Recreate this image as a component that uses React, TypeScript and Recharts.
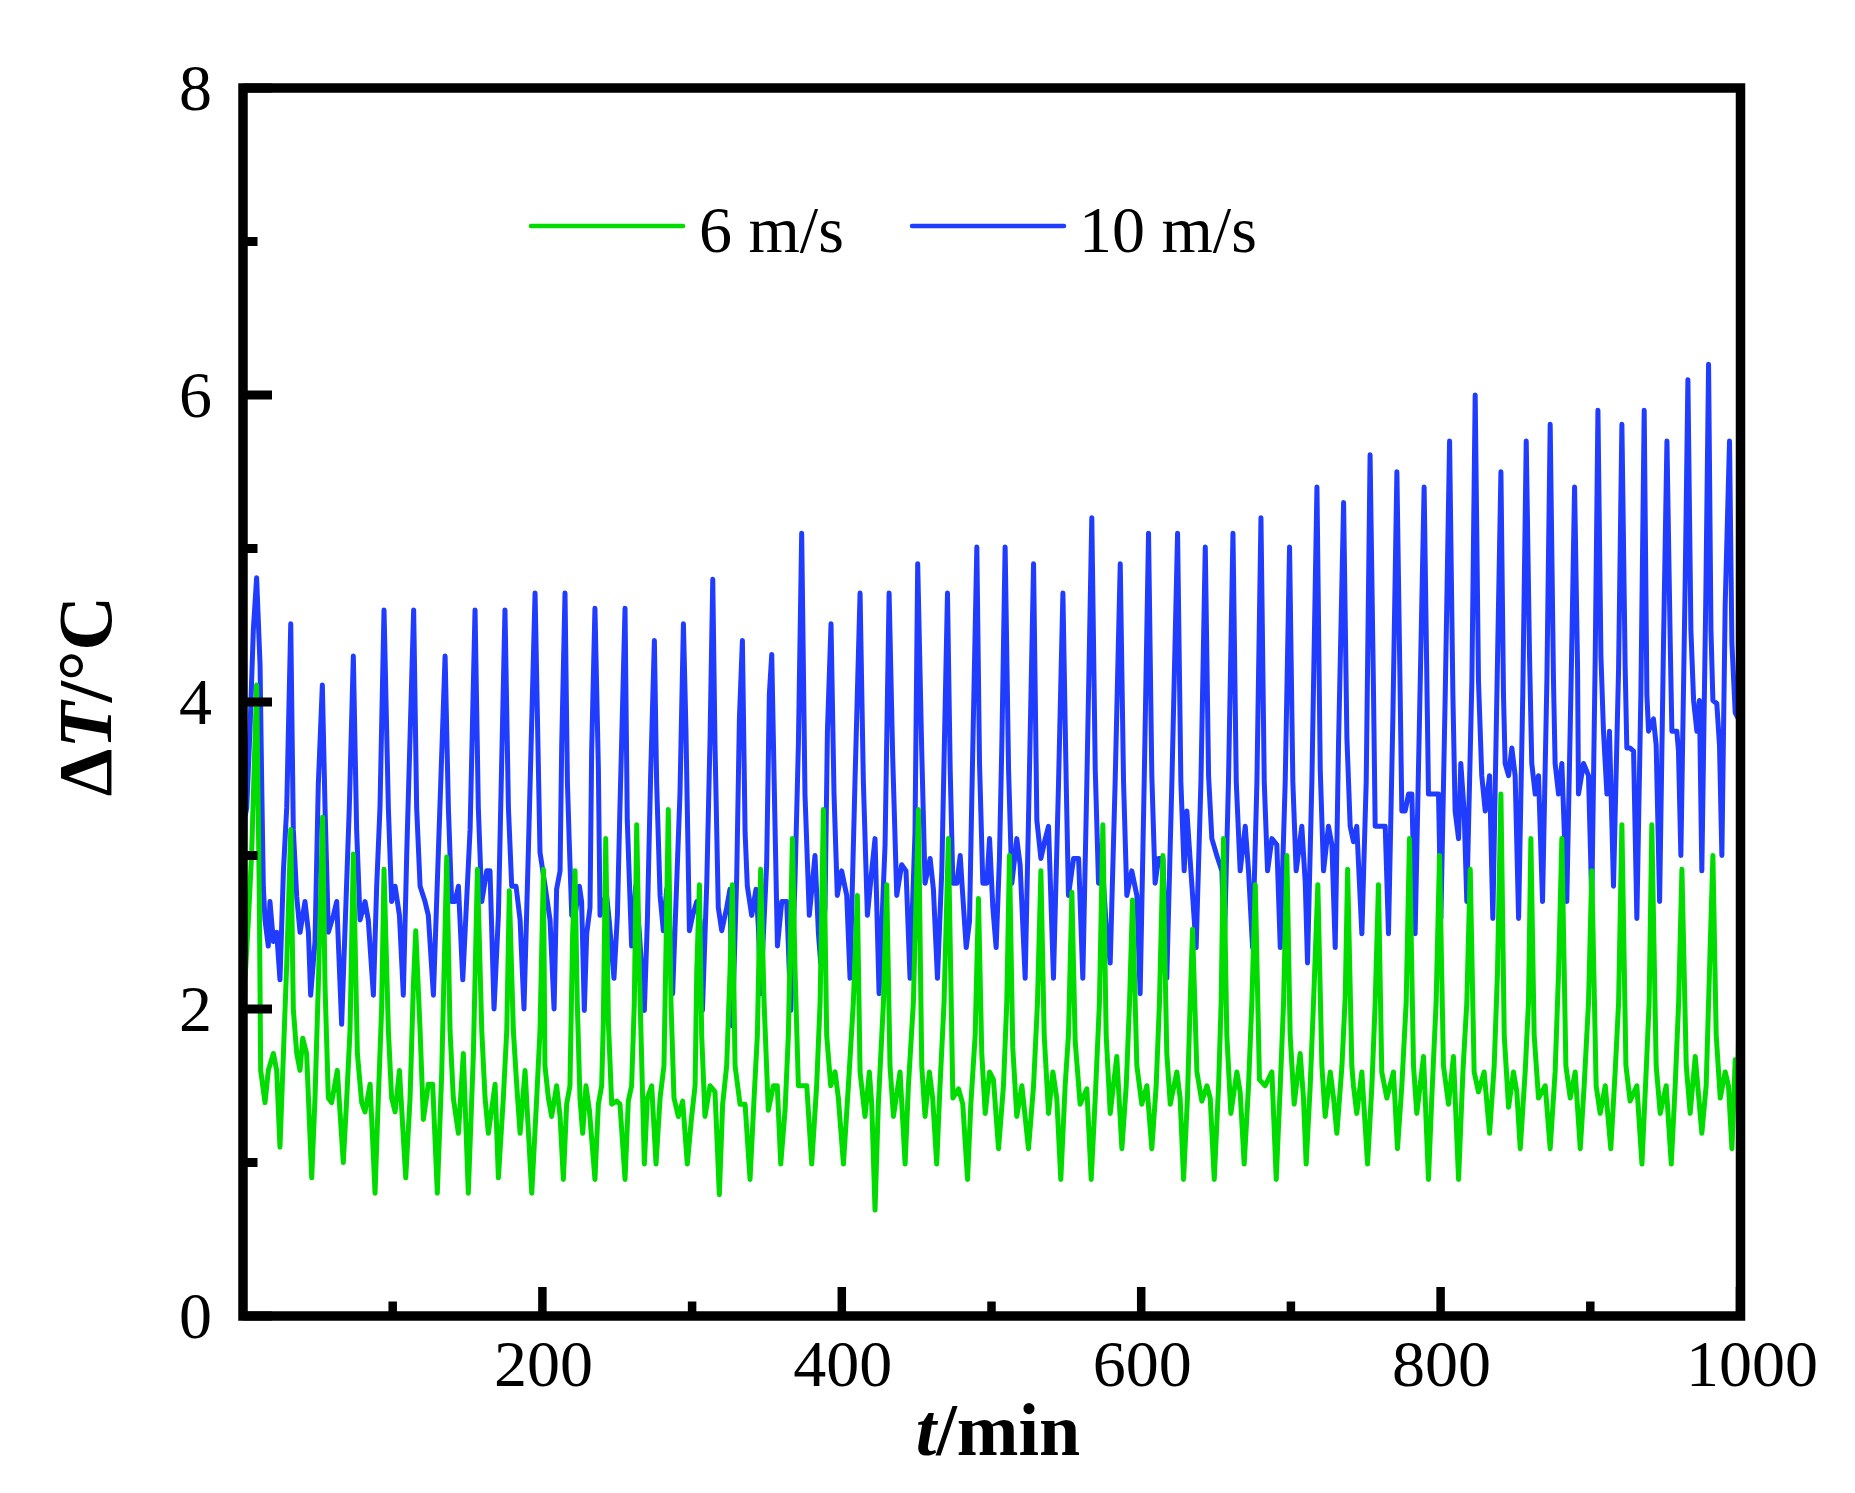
import React from "react";
import { LineChart, Line, XAxis, YAxis } from "recharts";

// [t (min), ΔT (°C)]
const speed10: [number, number][] = [
  [0, 2.19], [1.3, 3.25], [2.5, 3.31], [4.7, 3.83], [6.9, 4.47], [9.1, 4.81], [11.4, 4.24], [12.5, 3.46],
  [13.6, 2.79], [14.7, 2.58], [16.9, 2.41], [18.0, 2.7], [20.3, 2.44], [22.5, 2.5], [24.7, 2.19], [27.0, 2.9],
  [29.2, 3.31], [31.9, 4.51], [33.6, 3.17], [35.9, 2.73], [38.1, 2.5], [41.4, 2.7], [43.7, 2.5], [45.2, 2.09],
  [48.1, 2.44], [50.3, 3.46], [53.0, 4.11], [54.8, 3.31], [57.0, 2.5], [60.4, 2.61], [62.6, 2.7], [65.9, 1.9],
  [68.8, 2.7], [71.0, 3.31], [73.7, 4.3], [75.9, 3.17], [78.2, 2.58], [81.5, 2.7], [83.7, 2.58], [87.1, 2.09],
  [89.3, 2.8], [91.5, 3.31], [94.2, 4.6], [97.1, 3.31], [99.3, 2.7], [101.6, 2.8], [104.5, 2.61], [107.1, 2.09],
  [109.4, 3.02], [114.0, 4.6], [116.0, 3.31], [118.3, 2.8], [121.6, 2.7], [123.8, 2.61], [127.2, 2.09],
  [130.5, 3.02], [135.0, 4.3], [137.2, 3.31], [139.4, 2.7], [141.6, 2.7], [143.9, 2.8], [146.8, 2.19],
  [151.7, 3.17], [155.0, 4.6], [157.2, 3.31], [159.5, 2.7], [162.8, 2.9], [165.0, 2.9], [167.7, 2.0],
  [170.6, 2.61], [175.0, 4.6], [177.3, 3.31], [179.5, 2.8], [182.4, 2.8], [185.1, 2.58], [187.7, 2.0],
  [190.6, 3.02], [195.1, 4.71], [198.4, 3.02], [201.8, 2.8], [205.1, 2.58], [207.8, 2.0],
  [209.5, 2.78], [211.8, 2.9], [212.9, 3.72], [215.1, 4.71], [216.7, 3.48], [218.0, 3.07], [219.6, 2.61],
  [221.8, 2.61], [224.7, 2.8], [226.2, 2.7], [228.0, 1.99], [229.6, 2.49], [231.8, 2.66], [232.9, 3.68],
  [235.1, 4.61], [237.4, 3.56], [238.5, 2.61], [240.7, 2.7], [242.9, 2.74], [244.7, 2.57], [247.8, 2.2],
  [250.1, 2.61], [251.8, 3.31], [255.2, 4.61], [256.7, 3.23], [259.6, 2.41], [262.3, 2.8], [264.8, 2.49],
  [268.1, 1.99], [270.1, 2.57], [272.3, 3.52], [274.8, 4.4], [276.3, 3.48], [278.6, 2.74], [280.8, 2.51],
  [283.0, 2.78], [284.8, 2.57], [287.0, 2.1], [289.7, 2.82], [291.9, 3.4], [294.2, 4.51], [295.9, 3.81],
  [298.2, 2.51], [300.4, 2.61], [303.1, 2.7], [305.3, 2.57], [306.9, 1.99], [309.8, 2.82], [312.0, 3.77],
  [313.8, 4.8], [315.3, 3.72], [317.5, 2.66], [319.8, 2.51], [323.1, 2.66], [325.3, 2.78], [326.9, 1.89],
  [329.8, 2.86], [331.6, 3.89], [333.6, 4.4], [335.4, 3.15], [336.9, 2.8], [339.8, 2.61], [342.7, 2.78],
  [344.3, 2.53], [345.8, 2.1], [349.8, 2.94], [351.6, 4.05], [353.2, 4.31], [355.4, 3.19], [357.0, 2.41],
  [359.9, 2.7], [363.2, 2.7], [365.9, 1.99], [368.8, 2.86], [371.0, 3.72], [373.2, 5.1], [375.4, 3.4],
  [378.3, 2.61], [382.1, 3.0], [384.4, 2.49], [385.9, 2.3], [388.8, 2.66], [390.4, 3.81], [392.8, 4.51],
  [394.8, 3.4], [397.0, 2.74], [399.9, 2.9], [403.3, 2.74], [405.5, 2.2], [408.8, 3.48], [412.2, 4.71],
  [414.4, 3.48], [417.1, 2.61], [420.0, 2.9], [422.2, 3.11], [424.9, 2.1], [428.9, 3.07], [431.6, 4.71],
  [434.0, 3.64], [436.7, 2.74], [440.0, 2.94], [442.9, 2.9], [445.6, 2.2], [448.9, 3.15], [450.7, 4.9],
  [453.4, 3.68], [455.6, 2.82], [459.0, 2.98], [461.2, 2.78], [463.9, 2.2], [466.8, 2.9], [470.6, 4.71],
  [472.4, 3.56], [474.2, 2.82], [476.9, 2.82], [479.1, 3.0], [480.8, 2.74], [483.1, 2.4], [485.3, 2.57],
  [486.9, 3.4], [490.2, 5.01], [492.0, 3.6], [494.2, 2.82], [496.9, 2.82], [498.7, 3.11], [500.9, 2.66],
  [503.1, 2.4], [505.3, 2.98], [506.9, 3.72], [509.1, 5.01], [511.4, 3.56], [513.6, 2.82], [516.9, 3.11],
  [519.1, 2.94], [522.5, 2.2], [524.7, 3.23], [528.1, 4.9], [530.3, 3.23], [533.0, 2.98], [535.9, 3.11],
  [538.1, 3.19], [541.4, 2.2], [544.8, 3.48], [547.7, 4.71], [549.9, 3.48], [551.4, 2.74], [554.8, 2.98],
  [558.2, 2.98], [561.0, 2.2], [563.7, 3.48], [567.0, 5.2], [569.3, 3.56], [571.5, 2.82], [574.8, 2.82],
  [577.0, 2.49], [579.3, 2.3], [582.6, 3.48], [586.0, 4.9], [588.2, 3.48], [590.4, 2.74], [593.7, 2.9],
  [597.1, 2.74], [599.3, 2.1], [602.0, 3.48], [604.9, 5.1], [607.1, 3.52], [609.3, 2.82], [611.6, 2.98],
  [614.5, 2.98], [617.1, 2.2], [620.5, 3.48], [624.3, 5.1], [626.5, 3.48], [628.7, 2.9], [630.5, 3.29],
  [633.2, 2.9], [636.7, 2.4], [639.9, 3.48], [642.8, 5.01], [645.0, 3.52], [647.2, 3.11], [650.5, 3.0],
  [653.9, 2.9], [655.5, 2.4], [658.3, 3.48], [661.3, 5.1], [663.5, 3.48], [666.1, 2.9], [669.5, 3.19],
  [671.7, 2.9], [674.4, 2.4], [677.3, 3.48], [680.0, 5.2], [682.2, 3.48], [684.4, 2.9], [687.3, 3.11],
  [690.6, 3.07], [692.9, 2.4], [696.2, 3.48], [699.1, 5.01], [701.3, 3.48], [703.5, 2.9], [707.3, 3.19],
  [709.6, 2.82], [711.1, 2.3], [714.0, 3.48], [717.4, 5.4], [719.6, 3.56], [721.8, 2.9], [725.1, 3.19],
  [727.4, 3.07], [729.6, 2.4], [731.8, 3.72], [735.2, 5.3], [737.4, 3.77],
  [739.6, 3.19], [741.8, 3.09], [744.0, 3.19], [747.4, 2.49], [750.3, 3.48], [752.9, 5.61], [755.2, 4.05],
  [756.3, 3.19], [760.7, 3.19], [763.0, 3.19], [765.2, 2.49], [768.1, 3.89], [770.8, 5.5], [773.0, 4.05],
  [774.1, 3.29], [776.3, 3.29], [778.6, 3.4], [780.8, 3.4], [783.0, 2.49], [785.9, 3.89], [789.0, 5.4],
  [791.2, 3.89], [791.9, 3.4], [796.4, 3.4], [798.6, 3.4], [800.2, 2.59], [803.1, 4.05], [806.0, 5.7],
  [808.2, 4.05], [809.7, 3.29], [812.0, 3.11], [813.5, 3.6], [815.7, 3.29], [817.5, 2.7], [820.9, 4.14],
  [823.1, 6.0], [825.3, 4.14], [827.5, 3.52], [829.8, 3.29], [832.7, 3.52], [834.9, 2.59], [837.6, 4.05],
  [840.3, 5.5], [842.0, 4.05], [843.1, 3.6], [845.4, 3.52], [847.6, 3.7], [849.8, 3.52], [852.1, 2.59],
  [854.9, 4.05], [857.2, 5.7], [859.4, 4.3], [860.9, 3.6], [863.2, 3.4], [865.4, 3.52], [868.1, 2.7],
  [871.0, 4.14], [873.2, 5.81], [875.4, 4.14], [876.5, 3.6], [878.8, 3.4], [881.0, 3.6], [884.3, 2.7],
  [887.2, 4.14], [889.5, 5.4], [891.5, 4.22], [892.1, 3.4], [895.5, 3.6], [898.8, 3.52], [901.0, 2.7],
  [903.3, 4.3], [905.1, 5.9], [907.1, 4.3], [908.8, 3.81], [911.1, 3.4], [912.8, 3.81], [915.5, 2.8],
  [918.9, 4.22], [921.1, 5.81], [923.3, 4.22], [924.4, 3.7], [926.6, 3.7], [928.9, 3.68], [931.1, 2.59],
  [933.8, 4.05], [936.0, 5.9], [937.8, 4.05], [938.9, 3.81], [942.2, 3.89], [944.0, 3.72], [946.3, 2.7],
  [948.9, 4.38], [951.2, 5.7], [953.4, 4.38], [954.5, 3.81], [957.8, 3.81], [958.9, 3.68], [960.5, 3.0],
  [963.4, 4.79], [965.2, 6.1], [967.2, 4.47], [969.0, 4.01], [971.2, 3.81], [972.9, 4.01], [974.5, 2.9],
  [977.2, 4.71], [979.0, 6.2], [980.6, 4.47], [981.9, 4.01], [984.5, 3.99], [986.3, 3.72], [987.9, 3.0],
  [990.1, 4.63], [993.0, 5.7], [994.6, 4.38], [996.8, 3.93], [999.0, 3.89], [1000, 3.81],
];

const speed6: [number, number][] = [
  [0, 1.39], [1.3, 2.18], [3.6, 2.58], [5.8, 3.02], [9.1, 4.11], [10.9, 2.73], [11.8, 1.6], [14.7, 1.39],
  [16.9, 1.6], [20.3, 1.71], [22.5, 1.6], [24.7, 1.1], [27.0, 1.71], [29.2, 2.29], [31.9, 3.17], [33.6, 2.0],
  [35.9, 1.71], [38.1, 1.6], [39.9, 1.81], [42.5, 1.71], [45.9, 0.9], [48.1, 1.42], [50.3, 2.15], [53.2, 3.25],
  [54.8, 2.15], [57.0, 1.42], [59.2, 1.39], [63.0, 1.6], [67.0, 1.0], [69.3, 1.42], [71.5, 1.86], [73.7, 3.01],
  [76.4, 1.71], [79.3, 1.39], [81.5, 1.33], [84.9, 1.51], [88.2, 0.8], [90.4, 1.42], [92.6, 2.0], [94.2, 2.91],
  [97.1, 1.86], [99.3, 1.42], [101.6, 1.33], [104.5, 1.6], [108.7, 0.9], [111.6, 1.42], [113.8, 2.15],
  [115.4, 2.51], [118.3, 1.86], [120.5, 1.28], [123.8, 1.51], [126.7, 1.51], [129.8, 0.8], [132.7, 1.57],
  [136.1, 2.99], [138.3, 1.86], [140.5, 1.42], [143.9, 1.19], [147.2, 1.71], [150.5, 0.8], [153.9, 1.71],
  [156.6, 2.91], [159.5, 1.86], [161.7, 1.42], [163.9, 1.19], [168.4, 1.51], [170.6, 0.9], [173.9, 1.42],
  [176.2, 1.86], [177.9, 2.77], [180.6, 1.86], [182.8, 1.51], [185.1, 1.19], [188.4, 1.6], [192.9, 0.8],
  [196.2, 1.42], [198.4, 1.86], [200.7, 2.91],
  [201.7, 1.63], [204.0, 1.42], [206.2, 1.3], [209.5, 1.5], [211.8, 1.3], [214.0, 0.89], [216.2, 1.38],
  [218.4, 1.5], [220.2, 2.49], [221.8, 2.9], [223.3, 2.04], [225.1, 1.42], [226.9, 1.19], [229.1, 1.5],
  [231.4, 1.34], [235.1, 0.89], [237.4, 1.38], [239.6, 1.5], [240.7, 1.91], [242.3, 3.11], [244.1, 1.91],
  [246.3, 1.38], [249.6, 1.4], [251.8, 1.38], [255.2, 0.89], [257.4, 1.4], [259.6, 1.5], [261.4, 2.04],
  [263.0, 3.2], [264.8, 2.24], [268.1, 0.99], [270.1, 1.42], [273.0, 1.5], [275.9, 0.99], [278.6, 1.42],
  [281.2, 1.63], [282.6, 2.41], [284.1, 3.3], [285.9, 2.04], [287.9, 1.42], [290.8, 1.3], [293.7, 1.4],
  [296.8, 0.99], [299.7, 1.3], [302.0, 1.5], [303.1, 2.24], [304.9, 2.81], [306.4, 1.83], [308.6, 1.3],
  [312.0, 1.5], [315.3, 1.46], [318.2, 0.79], [320.4, 1.38], [323.1, 1.63], [325.3, 2.24], [326.9, 2.81],
  [328.7, 1.63], [332.0, 1.38], [335.4, 1.38], [338.7, 0.89], [341.4, 1.42], [343.6, 1.83], [345.8, 2.91],
  [348.1, 2.04], [350.9, 1.34], [354.3, 1.5], [356.9, 1.5], [359.2, 0.99], [362.1, 1.34], [364.3, 1.83],
  [367.0, 3.11], [368.8, 2.24], [371.0, 1.5], [374.3, 1.5], [376.6, 1.5], [379.9, 0.99], [383.2, 1.5],
  [385.5, 2.04], [387.7, 3.3], [389.9, 1.83], [392.6, 1.5], [395.5, 1.59], [397.7, 1.42], [401.1, 0.99],
  [404.4, 1.5], [407.7, 2.04], [410.4, 2.74], [412.2, 1.59], [415.5, 1.3], [418.4, 1.59], [420.0, 1.38],
  [422.2, 0.69], [424.4, 1.38], [427.8, 2.04], [430.0, 2.81], [432.2, 1.63], [434.5, 1.3], [438.9, 1.59],
  [442.3, 0.99], [444.5, 1.5], [447.8, 2.04], [451.2, 3.3], [453.4, 1.63], [455.6, 1.3], [458.5, 1.59],
  [460.7, 1.42], [463.4, 0.99], [465.6, 1.5], [468.3, 2.04], [471.2, 3.11],
  [474.2, 1.42], [478.0, 1.48], [480.8, 1.38], [484.0, 0.89], [486.2, 1.38], [489.1, 1.83], [491.3, 2.72],
  [493.5, 1.71], [495.8, 1.32], [498.7, 1.59], [501.3, 1.54], [504.7, 1.09], [508.0, 1.5], [510.2, 2.04],
  [512.0, 3.0], [514.2, 1.75], [516.9, 1.3], [520.3, 1.5], [524.7, 1.09], [528.1, 1.5], [530.7, 2.04],
  [533.0, 2.9], [535.2, 1.83], [538.1, 1.32], [541.0, 1.59], [543.6, 1.42], [546.3, 0.89], [549.2, 1.5],
  [551.4, 1.83], [553.7, 2.76], [555.9, 1.79], [559.2, 1.38], [563.7, 1.48], [566.6, 0.89], [569.3, 1.42],
  [572.1, 2.04], [574.4, 3.2], [576.6, 1.83], [579.3, 1.32], [583.7, 1.69], [587.1, 1.09], [590.0, 1.5],
  [592.2, 2.04], [594.2, 2.71], [597.1, 1.63], [600.4, 1.38], [603.8, 1.5], [607.1, 1.09], [610.0, 1.5],
  [612.2, 2.04], [614.5, 3.0], [617.1, 1.71], [619.4, 1.38], [623.8, 1.59], [626.0, 1.42], [628.3, 0.89],
  [630.9, 1.42], [632.7, 2.04], [634.3, 2.52], [637.2, 1.59], [640.5, 1.4], [643.9, 1.5], [646.1, 1.42],
  [648.8, 0.89], [651.7, 1.5], [653.4, 2.04], [655.0, 3.11], [657.2, 1.83], [659.9, 1.32], [663.9, 1.59],
  [666.1, 1.46], [668.8, 0.99], [671.7, 1.5], [673.9, 2.04], [676.2, 2.81], [679.0, 1.54], [682.8, 1.5],
  [687.3, 1.59], [690.2, 0.89], [692.9, 1.5], [695.1, 2.04], [697.3, 3.0], [699.5, 1.83], [702.2, 1.38],
  [706.2, 1.71], [708.4, 1.42], [710.2, 0.99], [712.9, 1.5], [715.1, 2.04], [718.0, 2.81], [720.7, 1.63],
  [722.9, 1.3], [726.3, 1.59], [728.5, 1.42], [730.7, 1.19], [734.1, 1.63], [736.3, 2.08], [737.9, 2.91],
  [740.7, 1.63],
  [741.8, 1.5], [744.0, 1.32], [747.4, 1.59], [751.2, 0.99], [754.1, 1.5], [756.3, 2.04], [758.5, 2.81],
  [760.7, 1.59], [764.1, 1.42], [768.5, 1.59], [771.2, 1.09], [774.1, 1.5], [777.0, 2.04], [779.2, 3.11],
  [781.9, 1.63], [784.1, 1.32], [788.6, 1.69], [791.9, 0.89], [794.1, 1.42], [797.0, 2.04], [799.3, 3.0],
  [801.9, 1.63], [805.3, 1.38], [808.6, 1.69], [812.0, 0.89], [814.9, 1.59], [817.5, 2.04], [819.8, 2.91],
  [822.4, 1.59], [825.3, 1.46], [829.1, 1.59], [832.7, 1.19], [835.8, 1.63], [838.0, 2.24], [840.3, 3.4],
  [842.5, 1.83], [845.4, 1.36], [848.7, 1.59], [850.9, 1.46], [853.2, 1.09], [856.5, 1.59], [858.7, 2.04],
  [860.3, 3.11], [862.5, 1.83], [865.4, 1.42], [869.9, 1.5], [873.2, 1.09], [876.5, 1.59], [878.8, 2.24],
  [881.0, 3.11], [883.7, 1.63], [886.6, 1.42], [889.9, 1.59], [893.3, 1.09], [895.9, 1.5], [898.8, 2.04],
  [901.0, 2.9], [903.9, 1.5], [906.6, 1.32], [910.0, 1.5], [913.7, 1.09], [916.6, 1.59], [918.9, 2.04],
  [921.1, 3.2], [923.8, 1.63], [926.6, 1.4], [931.1, 1.5], [934.5, 0.99], [937.3, 1.59], [939.3, 2.04],
  [941.1, 3.2], [944.0, 1.63], [946.7, 1.32], [950.7, 1.5], [954.1, 0.99], [956.7, 1.5], [959.0, 2.04],
  [961.2, 2.91], [964.1, 1.63], [966.7, 1.32], [970.1, 1.69], [974.5, 1.19], [977.4, 1.5], [979.6, 2.24],
  [981.9, 3.0], [984.1, 1.83], [986.8, 1.42], [990.1, 1.59], [992.3, 1.5], [994.6, 1.09], [996.8, 1.67],
  [998.4, 1.5], [1000, 2.3],
];

const xTicks = [100, 200, 300, 400, 500, 600, 700, 800, 900, 1000];
const xLabelled = [200, 400, 600, 800, 1000];
const yTicks = [0, 1, 2, 3, 4, 5, 6, 7, 8];
const yLabelled = [0, 2, 4, 6, 8];

const series = [
  { name: "6 m/s", color: "#00dc00", points: speed6 },
  { name: "10 m/s", color: "#1f3cff", points: speed10 },
];

const W = 1855;
const H = 1493;
const FONT = "'Times New Roman', 'Liberation Serif', serif";
// plot area: x 243..1740, y 88..1316 (axes take 2px each)
const M = { top: 88, right: 115, bottom: 175, left: 241 };

const toRows = (pts: [number, number][]) => pts.map(([t, v]) => ({ t, v }));

function XTick(props: any) {
  const { x, y, payload } = props;
  const major = xLabelled.includes(payload.value);
  return (
    <g>
      <line x1={x} x2={x} y1={y} y2={y - (major ? 29 : 14.5)} stroke="#000" strokeWidth={8.5} />
      {major && (
        <text
          x={x + (payload.value === 1000 ? 12 : 1)}
          y={y + 70}
          textAnchor="middle"
          fontFamily={FONT}
          fontSize={66}
          fill="#000"
        >
          {payload.value}
        </text>
      )}
    </g>
  );
}

function YTick(props: any) {
  const { x, y, payload } = props;
  const major = yLabelled.includes(payload.value);
  return (
    <g>
      <line x1={x} x2={x + (major ? 29 : 14.5)} y1={y} y2={y} stroke="#000" strokeWidth={9} />
      {major && (
        <text x={x - 31} y={y + 22} textAnchor="end" fontFamily={FONT} fontSize={66} fill="#000">
          {payload.value}
        </text>
      )}
    </g>
  );
}

export default function App() {
  return (
    <div style={{ position: "absolute", left: 0, top: 0, width: W, height: H, background: "#fff" }}>
      <LineChart width={W} height={H} margin={M}>
        <XAxis
          dataKey="t"
          type="number"
          domain={[0, 1000]}
          ticks={xTicks}
          allowDataOverflow
          height={2}
          tickSize={0}
          tickMargin={0}
          axisLine={false}
          tickLine={false}
          tick={XTick}
          interval={0}
        />
        <YAxis
          type="number"
          domain={[0, 8]}
          ticks={yTicks}
          width={2}
          tickSize={0}
          tickMargin={0}
          axisLine={false}
          tickLine={false}
          tick={YTick}
          interval={0}
        />
        {[...series].reverse().map((s) => (
          <Line
            key={s.name}
            data={toRows(s.points)}
            dataKey="v"
            type="linear"
            stroke={s.color}
            strokeWidth={5}
            strokeLinejoin="round"
            dot={false}
            activeDot={false}
            isAnimationActive={false}
          />
        ))}
      </LineChart>
      <svg
        width={W}
        height={H}
        style={{ position: "absolute", left: 0, top: 0, pointerEvents: "none" }}
      >
        <rect x={243} y={88} width={1497.5} height={1228} fill="none" stroke="#000" strokeWidth={9.5} />
        {/* legend */}
        <line x1={531} x2={683} y1={226} y2={226} stroke={series[0].color} strokeWidth={4.5} strokeLinecap="round" />
        <text x={699} y={252} fontFamily={FONT} fontSize={66} fill="#000">
          {series[0].name}
        </text>
        <line x1={912} x2={1064} y1={226} y2={226} stroke={series[1].color} strokeWidth={4.5} strokeLinecap="round" />
        <text x={1079} y={252} fontFamily={FONT} fontSize={66} fill="#000">
          {series[1].name}
        </text>
        {/* axis titles */}
        <text x={998} y={1455} textAnchor="middle" fontFamily={FONT} fontSize={74} fontWeight="bold" fill="#000">
          <tspan fontStyle="italic">t</tspan>/min
        </text>
        <text
          x={111}
          y={696}
          transform="rotate(-90 111 696)"
          textAnchor="middle"
          fontFamily={FONT}
          fontSize={76}
          fontWeight="bold"
          fill="#000"
        >
          Δ<tspan fontStyle="italic">T</tspan>/°C
        </text>
      </svg>
    </div>
  );
}
